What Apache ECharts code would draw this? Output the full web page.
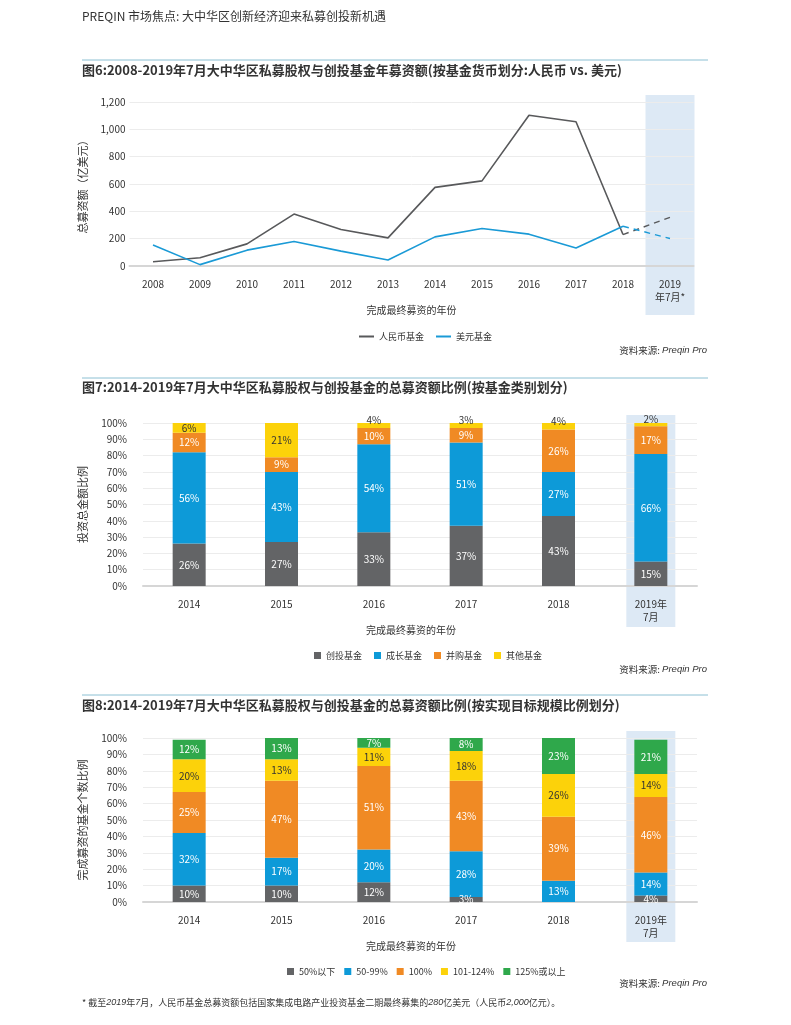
<!DOCTYPE html>
<html><head><meta charset="utf-8">
<script src="https://cdn.jsdelivr.net/npm/echarts@6/dist/echarts.min.js"></script>
<style>html,body{margin:0;padding:0;background:#fff}#c{width:791px;height:1025px}</style>
</head><body><div id="c"></div>
<script>
// ---- data ----
const lineYears = ['2008','2009','2010','2011','2012','2013','2014','2015','2016','2017','2018','2019\n年7月*'];
const rmbFund = [31,60,162,380,267,206,575,623,1103,1055,230,null];
const usdFund = [153,10,116,179,109,44,213,274,233,131,291,null];
const rmbProjection = [null,null,null,null,null,null,null,null,null,null,230,356];
const usdProjection = [null,null,null,null,null,null,null,null,null,null,291,201];

const barYears = ['2014','2015','2016','2017','2018','2019年\n7月'];
const ventureFund = [26,27,33,37,43,15];
const growthFund = [56,43,54,51,27,66];
const buyoutFund = [12,9,10,9,26,17];
const otherFund = [6,21,4,3,4,2];

const below50 = [10,10,12,3,0,4];
const pct50to99 = [32,17,20,28,13,14];
const pct100 = [25,47,51,43,39,46];
const pct101to124 = [20,13,11,18,26,14];
const pct125plus = [12,13,7,8,23,21];

// ---- style ----
const NUM = "'Liberation Sans Narrow','Noto Sans CJK SC',sans-serif";
const CJK = "'Noto Sans CJK SC',sans-serif";
const C_GRAY = '#636466', C_BLUE = '#0d9ad8', C_ORANGE = '#f08a24', C_YELLOW = '#fcd20a', C_GREEN = '#2fa84b';
const BAND = '#dde9f5';

const chart = echarts.init(document.getElementById('c'), null, {renderer:'canvas'});

const grids = [
  {left:129.5, right:97.5, top:102, height:164},
  {left:143, right:94, top:423, height:163},
  {left:143, right:94, top:738, height:164}
];

function xAxis(i, data, nameGap, namePad){
  return {type:'category', gridIndex:i, data:data, boundaryGap:true,
    axisLine:{show:true, lineStyle:{color:'#d6d6d6', width:2}},
    axisTick:{show:false},
    axisLabel:{color:'#333', fontSize:10, fontFamily:NUM, margin:12, lineHeight:13},
    name:'完成最终募资的年份', nameLocation:'middle', nameGap:nameGap,
    nameTextStyle:{color:'#333', fontSize:10, fontFamily:CJK, padding:namePad}};
}
function yAxis(i, opts){
  return Object.assign({type:'value', gridIndex:i, nameLocation:'middle', nameRotate:90,
    nameTextStyle:{color:'#333', fontSize:11, fontFamily:CJK},
    axisLine:{show:false}, axisTick:{show:false},
    splitLine:{show:true, lineStyle:{color:'#ececec', width:1}},
    axisLabel:{color:'#333', fontSize:10, fontFamily:NUM}}, opts);
}

function barSeries(name, data, xi, color, labelColor, smallUp){
  return {name:name, type:'bar', stack:'s'+xi, xAxisIndex:xi, yAxisIndex:xi, barWidth:33,
    itemStyle:{color:color},
    data:data.map(v => {
      const o = {value:v};
      if (smallUp && v < 5) o.label = {offset:[0,-5], color:'#333'};
      return o;
    }),
    label:{show:true, position:'inside', color:labelColor, fontSize:10, fontFamily:NUM,
      formatter: p => p.value ? p.value + '%' : ''}};
}

const option = {
  animation:false,
  textStyle:{fontFamily:CJK},
  grid:grids,
  xAxis:[xAxis(0, lineYears, 36, [0,0,0,0]), xAxis(1, barYears, 35, [0,18,0,0]), xAxis(2, barYears, 35, [0,18,0,0])],
  yAxis:[
    yAxis(0, {min:0, max:1200, interval:200, name:'总募资额（亿美元）', nameGap:41,
      axisLabel:{color:'#333', fontSize:10, fontFamily:NUM, margin:4,
        formatter: v => v.toLocaleString('en-US')}}),
    yAxis(1, {min:0, max:100, interval:10, name:'投资总金额比例', nameGap:55,
      axisLabel:{color:'#333', fontSize:10, fontFamily:NUM, margin:16, formatter:'{value}%'}}),
    yAxis(2, {min:0, max:100, interval:10, name:'完成募资的基金个数比例', nameGap:55,
      axisLabel:{color:'#333', fontSize:10, fontFamily:NUM, margin:16, formatter:'{value}%'}})
  ],
  legend:[
    {data:['人民币基金','美元基金'], top:327, left:354, icon:'rect', itemWidth:15, itemHeight:2,
      itemGap:12, textStyle:{color:'#333', fontSize:9, fontFamily:CJK}},
    {data:['创投基金','成长基金','并购基金','其他基金'], top:646, left:309, icon:'rect', itemWidth:7, itemHeight:7,
      itemGap:12, textStyle:{color:'#333', fontSize:9, fontFamily:CJK}},
    {data:['50%以下','50-99%','100%','101-124%','125%或以上'], top:962, left:282, icon:'rect', itemWidth:7, itemHeight:7,
      itemGap:9, textStyle:{color:'#333', fontSize:9, fontFamily:NUM}}
  ],
  series:[
    {name:'人民币基金', type:'line', xAxisIndex:0, yAxisIndex:0, data:rmbFund, showSymbol:false, symbol:'none',
      lineStyle:{color:'#58595b', width:1.6}, itemStyle:{color:'#58595b'}},
    {name:'美元基金', type:'line', xAxisIndex:0, yAxisIndex:0, data:usdFund, showSymbol:false, symbol:'none',
      lineStyle:{color:'#1a9ad6', width:1.6}, itemStyle:{color:'#1a9ad6'}},
    {name:'人民币基金预估', type:'line', xAxisIndex:0, yAxisIndex:0, data:rmbProjection, showSymbol:false, symbol:'none',
      lineStyle:{color:'#58595b', width:1.4, type:[6,5]}},
    {name:'美元基金预估', type:'line', xAxisIndex:0, yAxisIndex:0, data:usdProjection, showSymbol:false, symbol:'none',
      lineStyle:{color:'#1a9ad6', width:1.4, type:[6,5]}},

    barSeries('创投基金', ventureFund, 1, C_GRAY, '#fff'),
    barSeries('成长基金', growthFund, 1, C_BLUE, '#fff'),
    barSeries('并购基金', buyoutFund, 1, C_ORANGE, '#fff'),
    barSeries('其他基金', otherFund, 1, C_YELLOW, '#333', true),

    barSeries('50%以下', below50, 2, C_GRAY, '#fff'),
    barSeries('50-99%', pct50to99, 2, C_BLUE, '#fff'),
    barSeries('100%', pct100, 2, C_ORANGE, '#fff'),
    barSeries('101-124%', pct101to124, 2, C_YELLOW, '#333'),
    barSeries('125%或以上', pct125plus, 2, C_GREEN, '#fff')
  ]
};
chart.setOption(option);

// ---- decorations: highlight bands, titles, rules, sources ----
function band(xi, idx, w, top, bottom){
  const cx = chart.convertToPixel({xAxisIndex:xi}, idx);
  return {type:'rect', z:-10, silent:true, shape:{x:cx - w/2, y:top, width:w, height:bottom-top}, style:{fill:BAND}};
}
function rule(y){ return {type:'line', shape:{x1:82, y1:y, x2:708, y2:y}, style:{stroke:'#8cc0d3', lineWidth:1}}; }
function title(y, t){ return {type:'text', left:82, top:y-7, style:{text:t, fill:'#333', font:"bold 13px 'Noto Sans CJK SC'"}}; }
function source(y){
  return {type:'text', right:84, top:y-5, style:{text:'{a|资料来源: }{b|Preqin Pro}',
    rich:{a:{fontSize:9.5, fill:'#333', fontFamily:CJK}, b:{fontSize:9.5, fill:'#333', fontStyle:'italic', fontFamily:"'Liberation Sans Narrow','Liberation Sans',sans-serif"}}}};
}
const graphics = [
  band(0, 11, 49, 95, 315),
  band(1, 5, 49, 415, 627),
  band(2, 5, 49, 731, 942),
  {type:'text', left:82, top:10, style:{text:'PREQIN 市场焦点: 大中华区创新经济迎来私募创投新机遇', fill:'#333', font:"12px 'Noto Sans CJK SC'"}},
  rule(60), rule(378), rule(695),
  title(71, '图6:2008-2019年7月大中华区私募股权与创投基金年募资额(按基金货币划分:人民币 vs. 美元)'),
  title(388, '图7:2014-2019年7月大中华区私募股权与创投基金的总募资额比例(按基金类别划分)'),
  title(706, '图8:2014-2019年7月大中华区私募股权与创投基金的总募资额比例(按实现目标规模比例划分)'),
  source(350), source(669), source(983),
  {type:'text', left:82, top:998, style:{text:'{a|* 截至}{i|2019}{a|年}{i|7}{a|月，人民币基金总募资额包括国家集成电路产业投资基金二期最终募集的}{i|280}{a|亿美元（人民币}{i|2,000}{a|亿元）。}',
    rich:{a:{fontSize:9, fill:'#333', fontFamily:CJK}, i:{fontSize:9, fill:'#333', fontStyle:'italic', fontFamily:"'Liberation Sans Narrow','Liberation Sans',sans-serif"}}}}
];
chart.setOption({graphic:graphics});
</script>
</body></html>
